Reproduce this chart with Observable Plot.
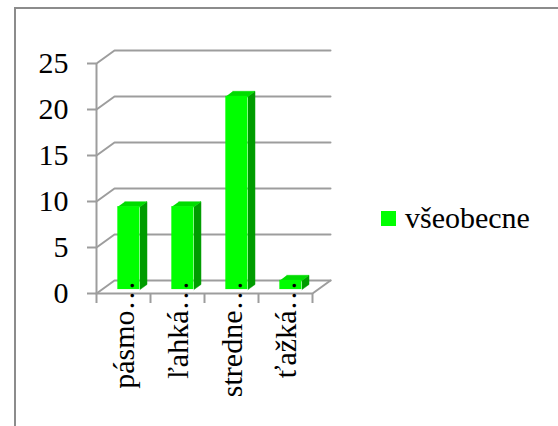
<!DOCTYPE html>
<html>
<head>
<meta charset="utf-8">
<script src="https://cdn.jsdelivr.net/npm/d3@7"></script>
<script src="https://cdn.jsdelivr.net/npm/@observablehq/plot@0.6"></script>
<style>
  html, body { margin: 0; padding: 0; background: #fff; overflow: hidden; }
  #wrap { position: relative; width: 558px; height: 426px; overflow: hidden; }
  #frame { position: absolute; left: 14px; top: 7px; width: 700px; height: 600px;
           border-left: 2px solid #8c8c8c; border-top: 2px solid #8c8c8c; box-sizing: border-box; }
  #chart { position: absolute; left: 0; top: 0; }
  #chart svg, #chart svg text, #chart svg tspan { font-family: 'Liberation Serif', serif !important; }
  #legend { position: absolute; left: 381px; top: 203px; height: 30px; display: flex; align-items: center; }
  #legend .sw { width: 15px; height: 15px; margin-right: 9px; }
  #legend .lb { font-family: 'Liberation Serif', serif; font-size: 30px; line-height: 30px; color: #000; }
</style>
</head>
<body>
<div id="wrap">
  <div id="frame"></div>
  <div id="chart"></div>
  <div id="legend"></div>
</div>
<script>
// Hearing-loss categories (labels as shown, truncated) and counts
const categories = ["pásmo…", "ľahká…", "stredne…", "ťažká…"];
const values = [9, 9, 21, 1];
const yTicks = [0, 5, 10, 15, 20, 25];
const seriesName = "všeobecne";

// colours of the 3-D column faces
const frontColor = "#00ff00";
const topColor = "#00dc00";
const sideColor = "#009c00";
const gridColor = "#9d9d9d";

// depth vector of the box (in data units: x per category slot, y per count)
const DX = 1 / 3, DY = 1.42;
// columns occupy this slice of the depth, and this share of each slot
const z0 = 0.3, z1 = 0.69, barW = 0.41;

const n = categories.length;
const bars = categories.map((c, i) => ({c, i, v: values[i]}));
const left = d => d.i + 0.5 - barW / 2 + z0 * DX;
const right = d => left(d) + barW;
const base = z0 * DY;
const dd = z1 - z0;

// side faces (right) and top faces as closed polygons
const sides = bars.flatMap(d => [
  {i: d.i, x: right(d), y: base},
  {i: d.i, x: right(d) + dd * DX, y: base + dd * DY},
  {i: d.i, x: right(d) + dd * DX, y: d.v + base + dd * DY},
  {i: d.i, x: right(d), y: d.v + base}
]);
const tops = bars.flatMap(d => [
  {i: d.i, x: left(d), y: d.v + base},
  {i: d.i, x: right(d), y: d.v + base},
  {i: d.i, x: right(d) + dd * DX, y: d.v + base + dd * DY},
  {i: d.i, x: left(d) + dd * DX, y: d.v + base + dd * DY}
]);

// back-wall gridlines: a short diagonal from the front axis, then across
const grid = yTicks.flatMap(v => [
  {v, x: 0, y: v},
  {v, x: DX, y: v + DY},
  {v, x: n + DX, y: v + DY}
]);
// floor: front edge and right edge
const floor = [
  {x: 0, y: 0}, {x: n, y: 0}, {x: n + DX, y: DY}
];
const slotEdges = d3.range(n + 1);

const font = "Liberation Serif";

const chart = Plot.plot({
  width: 558,
  height: 426,
  marginLeft: 96,
  marginRight: 246,
  marginTop: 63,
  marginBottom: 133,
  style: {background: "transparent", overflow: "visible"},
  x: {type: "linear", domain: [0, n]},
  y: {domain: [0, 25]},
  marks: [
    Plot.line(grid, {x: "x", y: "y", z: "v", stroke: gridColor, strokeWidth: 2}),
    Plot.line(floor, {x: "x", y: "y", stroke: gridColor, strokeWidth: 2}),
    Plot.ruleX([0], {y1: 0, y2: 25, stroke: gridColor, strokeWidth: 2}),
    Plot.axisX(slotEdges, {
      anchor: "bottom", tickSize: 10, stroke: gridColor, strokeWidth: 2,
      tickFormat: () => "", label: null
    }),
    Plot.axisY(yTicks, {
      anchor: "left", tickSize: 9, tickPadding: 19, stroke: gridColor, strokeWidth: 2,
      fill: "#000", fontSize: 30, fontFamily: font, label: null
    }),
    Plot.line(sides, {x: "x", y: "y", z: "i", fill: sideColor, stroke: sideColor, strokeWidth: 0.5}),
    Plot.line(tops, {x: "x", y: "y", z: "i", fill: topColor, stroke: topColor, strokeWidth: 0.5}),
    Plot.rect(bars, {x1: left, x2: right, y1: () => base, y2: d => d.v + base, fill: frontColor}),
    Plot.text(bars, {
      x: d => d.i + 0.5, y: () => 0, text: "c",
      rotate: -90, textAnchor: "end", dx: 1, dy: -13,
      fontSize: 30, fontFamily: font, fill: "#000"
    })
  ]
});
document.getElementById("chart").append(chart);

// legend
const lg = document.getElementById("legend");
const sw = document.createElement("div");
sw.className = "sw";
sw.style.background = frontColor;
const lb = document.createElement("span");
lb.className = "lb";
lb.textContent = seriesName;
lg.append(sw, lb);
</script>
</body>
</html>
